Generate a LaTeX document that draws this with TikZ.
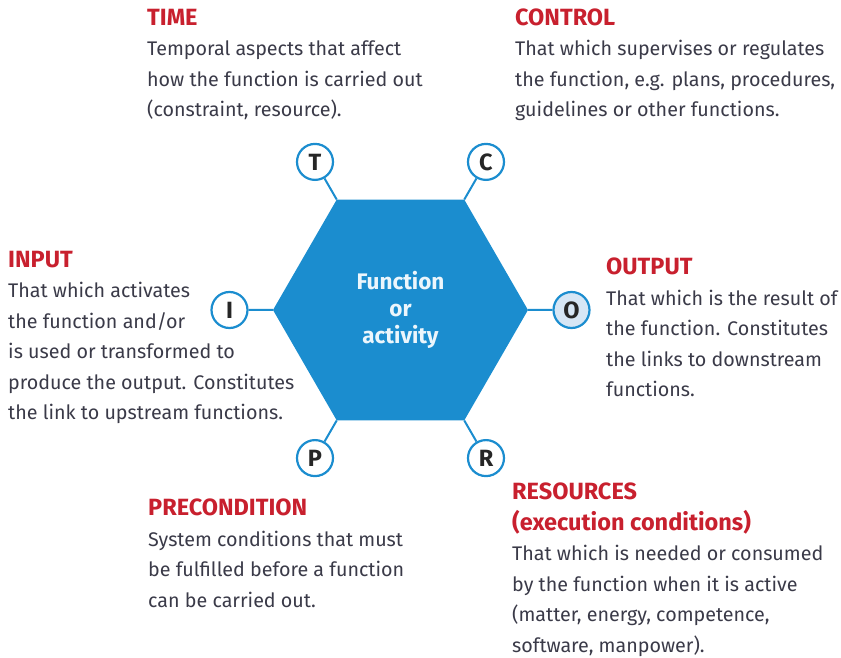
\documentclass[tikz,border=0pt]{standalone}
\usepackage{fontspec}
\setmainfont{Fira Sans}
\usepackage{xcolor}
\usepackage{tikz}
\usetikzlibrary{shapes.geometric}

\definecolor{hexblue}{RGB}{27,141,207}
\definecolor{headred}{RGB}{200,32,46}
\definecolor{bodygray}{RGB}{58,58,72}
\definecolor{portfill}{RGB}{214,230,245}
\definecolor{hextext}{RGB}{236,246,252}

\newcommand{\head}[1]{{\fontsize{23.5}{30.5}\selectfont\color{headred}\bfseries #1}}

\tikzset{
  hexa/.style={regular polygon, regular polygon sides=6, minimum size=255pt,
    inner sep=0pt, outer sep=0pt, fill=hexblue, text=hextext, align=center,
    font=\fontsize{22.5}{27}\selectfont\bfseries},
  port/.style={circle, draw=hexblue, line width=2.2pt, minimum size=36pt,
    inner sep=0pt, text=black!85, font=\fontsize{23.5}{23.5}\selectfont\bfseries},
  link/.style={draw=hexblue, line width=2pt},
  % anchor on the baseline of the last line
  blurb/.style={anchor=base west, align=left, inner sep=0pt, text=bodygray,
    font=\fontsize{19.7}{30.5}\selectfont}
}

\begin{document}
\begin{tikzpicture}[x=1pt,y=1pt]
			\useasboundingbox (-400.5,-348) rectangle (440.5,310);
			
			% sechseck in der mitte
			\node[hexa] (hex) at (0,0) {Function\\or\\activity};
			
			% die sechs aspekte rundherum
			\foreach \ang/\nm/\lab/\bg in {120/t/T/white, 60/c/C/white, 180/i/I/white,
				0/o/O/portfill, 240/p/P/white, 300/r/R/white} {
				\node[port, fill=\bg] (\nm) at (\ang:171) {\lab};
				\draw[link] (hex.\ang) -- (\nm);
			}
			
			% erklaerungen
			\node[blurb] (time) at (-253.5,193) {\head{TIME}\\Temporal aspects that affect\\how the function is carried out\\(constraint, resource).};
			\node[blurb] (control) at (114.5,193) {\head{CONTROL}\\That which supervises or regulates\\the function, e.g. plans, procedures,\\guidelines or other functions.};
			\node[blurb] (input) at (-392.5,-110) {\head{INPUT}\\That which activates\\the function and/or\\is used or transformed to\\produce the output. Constitutes\\the link to upstream functions.};
			\node[blurb] (output) at (205.5,-87) {\head{OUTPUT}\\That which is the result of\\the function. Constitutes\\the links to downstream\\functions.};
			\node[blurb] (precond) at (-252.5,-297) {\head{PRECONDITION}\\System conditions that must\\be fulfilled before a function\\can be carried out.};
			\node[blurb] (resources) at (111.5,-342) {\head{RESOURCES}\\\head{(execution conditions)}\\That which is needed or consumed\\by the function when it is active\\(matter, energy, competence,\\software, manpower).};
		\end{tikzpicture}
\end{document}
